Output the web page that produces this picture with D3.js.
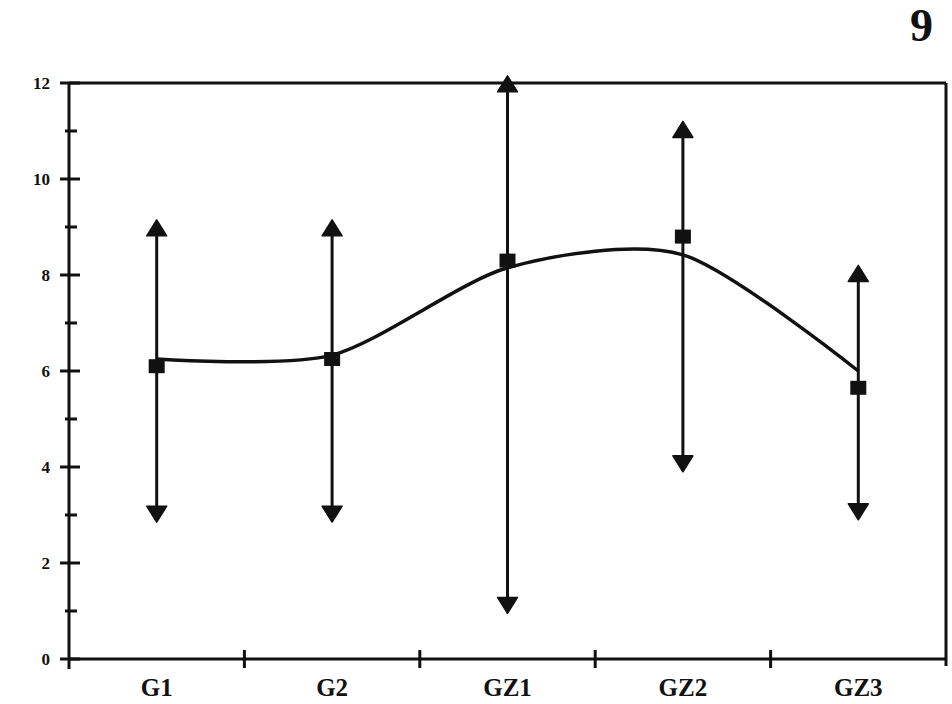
<!DOCTYPE html>
<html><head><meta charset="utf-8">
<script src="https://cdn.jsdelivr.net/npm/d3@7"></script>
<style>html,body{margin:0;padding:0;background:#fff;}svg{display:block;}</style>
</head><body>
<svg id="c" width="952" height="704"></svg>
<script>
const categories = ["G1", "G2", "GZ1", "GZ2", "GZ3"];
const means = [6.1, 6.25, 8.3, 8.8, 5.65];
const upper = [9.15, 9.15, 12.15, 11.2, 8.2];
const lower = [2.85, 2.85, 0.95, 3.9, 2.9];
const fitCurve = [6.25, 6.33, 8.15, 8.42, 6.0];
const yMajorTicks = [0, 2, 4, 6, 8, 10, 12];
const yMinorTicks = [1, 3, 5, 7, 9, 11];
const pageLabel = "9";

const svg = d3.select("#c");
const L = 69, R = 946, T = 83, B = 659;
const x = d3.scaleBand().domain(categories).range([L, R]).padding(0);
const y = d3.scaleLinear().domain([0, 12]).range([B, T]);
const cx = c => x(c) + x.bandwidth() / 2;
const ink = "#111";
const serif = "'Liberation Serif','DejaVu Serif',serif";

// frame top & right
svg.append("line").attr("x1", L).attr("x2", R).attr("y1", T).attr("y2", T).attr("stroke", ink).attr("stroke-width", 3);
svg.append("line").attr("x1", R).attr("x2", R).attr("y1", T).attr("y2", B + 7).attr("stroke", ink).attr("stroke-width", 3);

// y axis
const yAxis = d3.axisLeft(y).tickValues(yMajorTicks).tickSize(0).tickPadding(19).tickFormat(d3.format("d"));
const gy = svg.append("g").attr("transform", `translate(${L},0)`).call(yAxis);
gy.select(".domain").remove();
gy.selectAll("text").attr("font-family", serif).attr("font-weight", "bold").attr("font-size", 17).attr("fill", ink);
svg.append("line").attr("x1", L).attr("x2", L).attr("y1", T - 1).attr("y2", B + 10).attr("stroke", ink).attr("stroke-width", 3);
svg.selectAll(".ymaj").data(yMajorTicks).join("line").attr("class", "ymaj")
  .attr("x1", L - 9).attr("x2", L + 11).attr("y1", d => y(d)).attr("y2", d => y(d)).attr("stroke", ink).attr("stroke-width", 3);
svg.selectAll(".ymin").data(yMinorTicks).join("line").attr("class", "ymin")
  .attr("x1", L - 4).attr("x2", L + 8).attr("y1", d => y(d)).attr("y2", d => y(d)).attr("stroke", ink).attr("stroke-width", 3);

// x axis
const xAxis = d3.axisBottom(x).tickSize(0).tickPadding(19);
const gx = svg.append("g").attr("transform", `translate(0,${B})`).call(xAxis);
gx.select(".domain").remove();
gx.selectAll("text").attr("font-family", serif).attr("font-weight", "bold").attr("font-size", 25).attr("fill", ink);
svg.append("line").attr("x1", L).attr("x2", R).attr("y1", B).attr("y2", B).attr("stroke", ink).attr("stroke-width", 3);
svg.selectAll(".xt").data(categories.slice(1)).join("line").attr("class", "xt")
  .attr("x1", d => x(d)).attr("x2", d => x(d)).attr("y1", B - 9).attr("y2", B + 9).attr("stroke", ink).attr("stroke-width", 3);

// error bars
const data = categories.map((c, i) => ({c, m: means[i], hi: upper[i], lo: lower[i], f: fitCurve[i]}));
const AW = 10, AH = 16;
svg.selectAll(".eb").data(data).join("line").attr("class", "eb")
  .attr("x1", d => cx(d.c)).attr("x2", d => cx(d.c))
  .attr("y1", d => y(d.hi) + 4).attr("y2", d => y(d.lo) - 4)
  .attr("stroke", ink).attr("stroke-width", 3);
svg.selectAll(".up").data(data).join("path").attr("class", "up")
  .attr("d", d => { const X = cx(d.c), Y = y(d.hi); return `M${X},${Y} L${X + AW},${Y + AH} L${X - AW},${Y + AH} Z`; })
  .attr("fill", ink).attr("stroke", ink).attr("stroke-width", 1.5).attr("stroke-linejoin", "round");
svg.selectAll(".dn").data(data).join("path").attr("class", "dn")
  .attr("d", d => { const X = cx(d.c), Y = y(d.lo); return `M${X},${Y} L${X + AW},${Y - AH} L${X - AW},${Y - AH} Z`; })
  .attr("fill", ink).attr("stroke", ink).attr("stroke-width", 1.5).attr("stroke-linejoin", "round");

// fitted curve
const line = d3.line().x(d => cx(d.c)).y(d => y(d.f)).curve(d3.curveCardinal.tension(0.2));
svg.append("path").datum(data).attr("d", line).attr("fill", "none").attr("stroke", ink).attr("stroke-width", 3.5);

// markers
const S = 16;
svg.selectAll(".mk").data(data).join("rect").attr("class", "mk")
  .attr("x", d => cx(d.c) - S / 2).attr("y", d => y(d.m) - 7).attr("width", S).attr("height", 14)
  .attr("fill", ink);

// page label
svg.append("text").attr("x", 933).attr("y", 41).attr("text-anchor", "end")
  .attr("font-family", serif).attr("font-weight", "bold").attr("font-size", 46).attr("fill", ink).text(pageLabel);
</script>
</body></html>
